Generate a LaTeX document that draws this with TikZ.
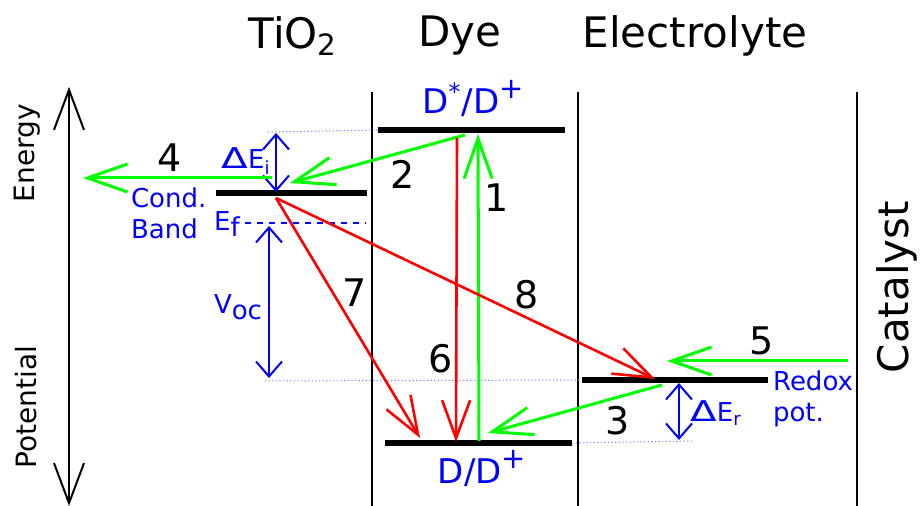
\documentclass[tikz,border=0pt]{standalone}
\usepackage{fontspec}
\setmainfont{DejaVu Sans}
\usepackage{tikz}
\usetikzlibrary{arrows.meta}
\definecolor{lvlblue}{HTML}{0000FF}
\definecolor{fwdgreen}{HTML}{00FF00}
\definecolor{lossred}{HTML}{FF0000}
\newcommand{\bigplus}{\raisebox{7.5pt}{\fontsize{14.5}{14.5}\selectfont +}}
\newcommand{\lowsub}[1]{\raisebox{-3pt}{#1}}
\tikzset{
  level/.style={line width=2.6pt},
  phase/.style={line width=1pt},
  axisarrow/.style={
    {Straight Barb[length=20pt,width=15pt]}-{Straight Barb[length=20pt,width=15pt]},
    line width=1pt
  },
  fwdarrow/.style={
    -{Straight Barb[length=20pt,width=14pt]},
    line width=1.5pt,
    draw=fwdgreen
  },
  lossarrow/.style={
    -{Straight Barb[length=19pt,width=14pt]},
    line width=1.3pt,
    draw=lossred
  },
  gaparrow/.style={
    {Straight Barb[length=7.5pt,width=13pt]}-{Straight Barb[length=7.5pt,width=13pt]},
    line width=1pt,
    draw=lvlblue
  },
  guide/.style={dash pattern=on 0.6pt off 1.2pt, draw=lvlblue!50, line width=0.5pt},
  fermi/.style={dash pattern=on 3pt off 3pt, draw=lvlblue, line width=0.8pt},
  title/.style={font=\fontsize{21}{24}\selectfont},
  sidetitle/.style={font=\fontsize{14}{16}\selectfont, rotate=90},
  stepnum/.style={font=\fontsize{19}{22}\selectfont},
  bluelabel/.style={text=lvlblue, font=\fontsize{13}{15.5}\selectfont, align=left},
  redoxlabel/.style={text=lvlblue, font=\fontsize{17}{20}\selectfont}
}

\begin{document}
\begin{tikzpicture}[x=0.5pt,y=-0.5pt]
    \useasboundingbox (0,0) rectangle (921,506);

    % column titles
    \node[title] (tio2) at (293,36) {TiO\textsubscript{2}};
    \node[title] (dye) at (460,36) {Dye};
    \node[title] (elec) at (695,36) {Electrolyte};
    \node[title, rotate=90] (cat) at (897,287) {Catalyst};
    \node[sidetitle] (energy) at (27,153) {Energy};
    \node[sidetitle] (pot) at (26,407) {Potential};

    % energy axis
    \coordinate (axtop) at (69,87);
    \coordinate (axbot) at (69,506);
    \draw[axisarrow] (axbot) -- (axtop);

    % phase boundaries
    \coordinate (b1t) at (372,92);  \coordinate (b1b) at (372,506);
    \coordinate (b2t) at (578,92);  \coordinate (b2b) at (578,506);
    \coordinate (b3t) at (857,92);  \coordinate (b3b) at (857,506);
    \draw[phase] (b1t) -- (b1b);
    \draw[phase] (b2t) -- (b2b);
    \draw[phase] (b3t) -- (b3b);

    % levels
    \coordinate (cbL) at (216,193); \coordinate (cbR) at (367,193);
    \coordinate (exL) at (378,130); \coordinate (exR) at (565,130);
    \coordinate (gsL) at (385,443); \coordinate (gsR) at (572,443);
    \coordinate (rxL) at (582,380); \coordinate (rxR) at (768,380);
    \coordinate (efL) at (245,223); \coordinate (efR) at (366,223);

    % guide lines
    \coordinate (gi) at (268,132);
    \coordinate (gv) at (265,381);
    \coordinate (gr) at (693,441);
    \draw[guide] (gi) -- (exL);
    \draw[guide] (gv) -- (rxL);
    \draw[guide] (gsR) -- (gr);

    \draw[level] (cbL) -- (cbR);
    \draw[level] (exL) -- (exR);
    \draw[level] (gsL) -- (gsR);
    \draw[level] (rxL) -- (rxR);
    \draw[fermi] (efL) -- (efR);

    % level labels
    \node[redoxlabel] (exlab) at (473,98) {D\textsuperscript{*}/D\bigplus};
    \node[redoxlabel] (gslab) at (482,468) {D/D\bigplus};
    \node[bluelabel, anchor=west] (cblab) at (124,213) {Cond.\\Band};
    \node[bluelabel, anchor=west] (rxlab) at (766,399) {Redox\\pot.};
    \node[bluelabel] (eflab) at (227,224) {E\lowsub{f}};

    % gaps
    \coordinate (dit) at (276,133); \coordinate (dib) at (276,192);
    \coordinate (dvt) at (269,226); \coordinate (dvb) at (269,378);
    \coordinate (drt) at (679,383); \coordinate (drb) at (679,440);
    \draw[gaparrow] (dit) -- (dib);
    \draw[gaparrow] (dvt) -- (dvb);
    \draw[gaparrow] (drt) -- (drb);
    \node[bluelabel] (dilab) at (246,161) {\scalebox{1.5}[1.1]{Δ}E\textsubscript{i}};
    \node[bluelabel] (dvlab) at (238,307) {V\lowsub{oc}};
    \node[bluelabel] (drlab) at (716,413) {\scalebox{1.5}[1.1]{Δ}E\textsubscript{r}};

    % forward processes
    \coordinate (a1s) at (479,441); \coordinate (a1e) at (478,134);
    \coordinate (a2s) at (465,135); \coordinate (a2e) at (290,183);
    \coordinate (a3s) at (662,385); \coordinate (a3e) at (488,433);
    \coordinate (a4s) at (272,178); \coordinate (a4e) at (83,178);
    \coordinate (a5s) at (848,361); \coordinate (a5e) at (667,361);
    \draw[fwdarrow] (a1s) -- (a1e);
    \draw[fwdarrow] (a2s) -- (a2e);
    \draw[fwdarrow] (a3s) -- (a3e);
    \draw[fwdarrow] (a4s) -- (a4e);
    \draw[fwdarrow] (a5s) -- (a5e);

    % loss processes
    \coordinate (a6s) at (457,138); \coordinate (a6e) at (456,442);
    \coordinate (a7s) at (276,198); \coordinate (a7e) at (420,438);
    \coordinate (a8e) at (655,379);
    \draw[lossarrow] (a6s) -- (a6e);
    \draw[lossarrow] (a7s) -- (a7e);
    \draw[lossarrow] (a7s) -- (a8e);

    % process numbers
    \node[stepnum] (n1) at (497,198) {1};
    \node[stepnum] (n2) at (403,174) {2};
    \node[stepnum] (n3) at (618,421) {3};
    \node[stepnum] (n4) at (170,158) {4};
    \node[stepnum] (n5) at (762,341) {5};
    \node[stepnum] (n6) at (441,359) {6};
    \node[stepnum] (n7) at (355,293) {7};
    \node[stepnum] (n8) at (527,295) {8};
\end{tikzpicture}
\end{document}
